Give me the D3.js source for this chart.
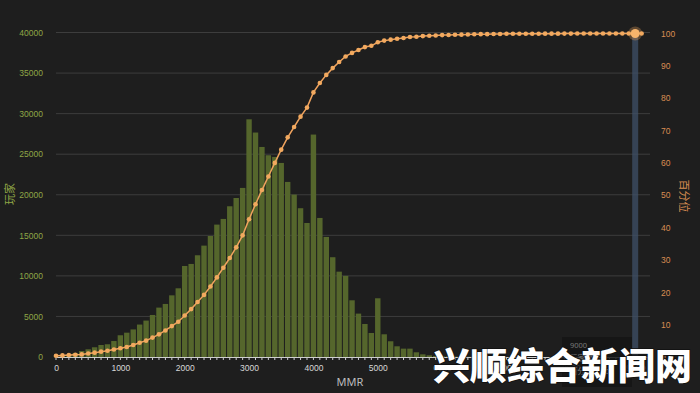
<!DOCTYPE html>
<html>
<head>
<meta charset="utf-8">
<script src="https://cdn.jsdelivr.net/npm/d3@7"></script>
<style>
  html, body { margin: 0; padding: 0; background: #1e1e1e; }
  svg { display: block; font-family: "Noto Sans", "Noto Sans CJK SC", sans-serif; }
</style>
</head>
<body>
<svg width="700" height="393"></svg>
<script>
// MMR buckets (100 wide), one per bar / point
const mmr = [
  0, 100, 200, 300, 400, 500, 600, 700, 800, 900,
  1000, 1100, 1200, 1300, 1400, 1500, 1600, 1700, 1800, 1900,
  2000, 2100, 2200, 2300, 2400, 2500, 2600, 2700, 2800, 2900,
  3000, 3100, 3200, 3300, 3400, 3500, 3600, 3700, 3800, 3900,
  4000, 4100, 4200, 4300, 4400, 4500, 4600, 4700, 4800, 4900,
  5000, 5100, 5200, 5300, 5400, 5500, 5600, 5700, 5800, 5900,
  6000, 6100, 6200, 6300, 6400, 6500, 6600, 6700, 6800, 6900,
  7000, 7100, 7200, 7300, 7400, 7500, 7600, 7700, 7800, 7900,
  8000, 8100, 8200, 8300, 8400, 8500, 8600, 8700, 8800, 8900,
  9000, 9100
];

// players per bucket
const players = [
  50, 150, 300, 500, 740, 950, 1200, 1480, 1570, 1970,
  2680, 3000, 3400, 4000, 4490, 5180, 6090, 6540, 7600, 8470,
  11220, 11470, 12540, 13730, 14920, 16320, 17020, 18580, 19600, 20840,
  29300, 27670, 25890, 24870, 24660, 23920, 21580, 20020, 18340, 16520,
  27420, 17140, 14800, 12300, 10520, 10000, 6990, 5350, 4070, 2960,
  7240, 2800, 1940, 1320, 1030, 1030, 580, 330, 210, 120,
  90, 70, 55, 45, 35, 30, 25, 20, 15, 12,
  10, 8, 6, 5, 4, 3, 3, 2, 2, 1,
  1, 1, 1, 1, 1, 1, 0, 0, 0, 0,
  0, 0
];

// cumulative percentile
const percentile = [
  0.4, 0.5, 0.6, 0.7, 0.8, 1.1, 1.35, 1.65, 1.95, 2.3,
  2.7, 3.1, 3.7, 4.4, 5.05, 6.0, 7.0, 8.2, 9.55, 10.9,
  12.85, 14.8, 17.0, 19.2, 21.8, 24.6, 27.6, 30.6, 33.9, 37.6,
  42.6, 47.2, 51.6, 55.8, 60.0, 64.1, 67.9, 71.1, 74.3, 77.1,
  81.8, 84.7, 87.2, 89.3, 91.2, 92.9, 94.0, 94.9, 95.8, 96.2,
  97.3, 97.8, 98.1, 98.4, 98.6, 98.9, 99.0, 99.2, 99.3, 99.4,
  99.5, 99.55, 99.6, 99.65, 99.7, 99.75, 99.8, 99.8, 99.85, 99.85,
  99.9, 99.9, 99.9, 99.92, 99.93, 99.94, 99.95, 99.95, 99.96, 99.97,
  99.97, 99.98, 99.98, 99.98, 99.99, 99.99, 99.99, 100, 100, 100,
  100, 100
];

const xTicks = [0, 1000, 2000, 3000, 4000, 5000, 6000, 7000, 8000, 9000];
const leftTicks = [0, 5000, 10000, 15000, 20000, 25000, 30000, 35000, 40000];
const rightTicks = [0, 10, 20, 30, 40, 50, 60, 70, 80, 90, 100];
const highlightIndex = 90;

const svg = d3.select("svg");
const plot = { left: 56, right: 650, top: 32.5, bottom: 357 };

const x = d3.scaleLinear().domain([0, 9230]).range([plot.left, plot.right]);
const yL = d3.scaleLinear().domain([0, 40000]).range([plot.bottom, plot.top]);
const yR = d3.scaleLinear().domain([0, 100]).range([plot.bottom, plot.top + 1]);

const barW = (x(100) - x(0)) * 0.84;

// grid lines
svg.append("g")
  .selectAll("line")
  .data(leftTicks.slice(1))
  .join("line")
  .attr("x1", plot.left)
  .attr("x2", plot.right)
  .attr("y1", d => yL(d))
  .attr("y2", d => yL(d))
  .attr("stroke", "#3d3d3d")
  .attr("stroke-width", 1);

// axis pointer shadow
svg.append("rect")
  .attr("x", x(mmr[highlightIndex]) - 3)
  .attr("y", yR(100))
  .attr("width", 6)
  .attr("height", plot.bottom - yR(100))
  .attr("fill", "#3f5068")
  .attr("opacity", 0.75);

// bars
svg.append("g")
  .selectAll("rect")
  .data(players)
  .join("rect")
  .attr("x", (d, i) => x(mmr[i]) - barW / 2)
  .attr("y", d => yL(d))
  .attr("width", barW)
  .attr("height", d => plot.bottom - yL(d))
  .attr("fill", "#55662c");

// x axis
const xAxis = svg.append("g")
  .attr("transform", `translate(0,${plot.bottom})`)
  .call(d3.axisBottom(x).tickValues(xTicks).tickSize(0).tickPadding(8).tickFormat(d3.format("d")));
xAxis.select(".domain").attr("stroke", "#cfcfcf");
xAxis.selectAll("text").attr("fill", "#d8d8d8").attr("font-size", 8.5);

xAxis.append("g")
  .selectAll("line")
  .data(mmr.concat([9200]))
  .join("line")
  .attr("x1", d => x(d))
  .attr("x2", d => x(d))
  .attr("y1", 0)
  .attr("y2", 3)
  .attr("stroke", "#cfcfcf");

// left axis
const leftAxis = svg.append("g")
  .attr("transform", `translate(${plot.left},0)`)
  .call(d3.axisLeft(yL).tickValues(leftTicks).tickSize(0).tickPadding(13).tickFormat(d3.format("d")));
leftAxis.select(".domain").remove();
leftAxis.selectAll("text").attr("fill", "#8fa646").attr("font-size", 8.5);

// right axis
const rightAxis = svg.append("g")
  .attr("transform", `translate(${plot.right},0)`)
  .call(d3.axisRight(yR).tickValues(rightTicks).tickSize(0).tickPadding(11));
rightAxis.select(".domain").remove();
rightAxis.selectAll("text").attr("fill", "#d98d52").attr("font-size", 8.5);

// percentile line
const line = d3.line()
  .x((d, i) => x(mmr[i]))
  .y(d => yR(d));

svg.append("path")
  .datum(percentile)
  .attr("d", line)
  .attr("fill", "none")
  .attr("stroke", "#f0a35e")
  .attr("stroke-width", 1.5);

svg.append("g")
  .selectAll("circle")
  .data(percentile)
  .join("circle")
  .attr("cx", (d, i) => x(mmr[i]))
  .attr("cy", d => yR(d))
  .attr("r", 2.3)
  .attr("fill", "#f2a95f");

// highlighted point
const hx = x(mmr[highlightIndex]);
const hy = yR(percentile[highlightIndex]);
svg.append("circle").attr("cx", hx).attr("cy", hy).attr("r", 7).attr("fill", "#f2a95f").attr("opacity", 0.3);
svg.append("circle").attr("cx", hx).attr("cy", hy).attr("r", 4.5).attr("fill", "#f6b46c");

// axis titles
svg.append("text")
  .attr("transform", "translate(14,194) rotate(-90)")
  .attr("text-anchor", "middle")
  .attr("fill", "#8fa646")
  .attr("font-size", 11)
  .text("玩家");

svg.append("text")
  .attr("transform", "translate(680,196) rotate(90)")
  .attr("text-anchor", "middle")
  .attr("fill", "#d98d52")
  .attr("font-size", 11)
  .text("百分位");

svg.append("text")
  .attr("x", 350)
  .attr("y", 386)
  .attr("text-anchor", "middle")
  .attr("fill", "#bdbdbd")
  .attr("font-size", 11)
  .text("MMR");

// tooltip (mostly hidden by the watermark)
const tip = svg.append("g").attr("transform", "translate(562,337)");
tip.append("rect").attr("width", 70).attr("height", 50).attr("fill", "#151515").attr("opacity", 0.85);
tip.append("text").attr("x", 8).attr("y", 11).attr("fill", "#777").attr("font-size", 7.5).text(mmr[highlightIndex]);
tip.append("text").attr("x", 8).attr("y", 24).attr("fill", "#777").attr("font-size", 7.5).text("玩家: " + players[highlightIndex]);
tip.append("text").attr("x", 8).attr("y", 37).attr("fill", "#777").attr("font-size", 7.5).text("百分位: " + percentile[highlightIndex]);

// watermark
svg.append("text")
  .attr("x", 692)
  .attr("y", 380)
  .attr("text-anchor", "end")
  .attr("font-family", "'Noto Sans CJK SC', sans-serif")
  .attr("font-weight", 900)
  .attr("font-size", 37)
  .attr("fill", "#ffffff")
  .attr("stroke", "#111")
  .attr("stroke-width", 1.5)
  .attr("paint-order", "stroke")
  .text("兴顺综合新闻网");
</script>
</body>
</html>
